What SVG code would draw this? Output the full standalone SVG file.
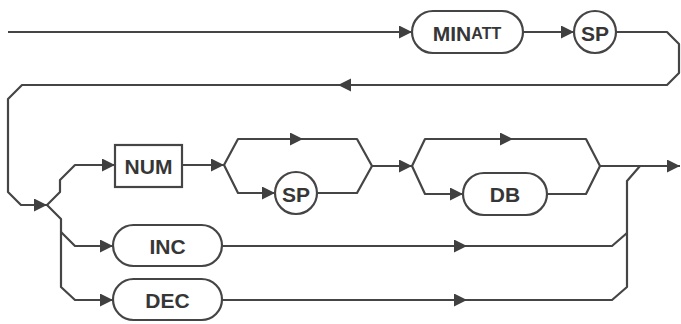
<svg xmlns="http://www.w3.org/2000/svg" width="681" height="324" viewBox="0 0 681 324">
  <defs>
    <marker id="arrow" markerUnits="userSpaceOnUse" markerWidth="14" markerHeight="14" refX="13" refY="6.5" orient="auto">
      <path d="M0,0 L13,6.5 L0,13 z" fill="#404040"/>
    </marker>
    <style>
      .wire { fill: none; stroke: #454545; stroke-width: 2.2; stroke-linejoin: round; }
      .arr { marker-end: url(#arrow); }
      .node { fill: #fff; stroke: #454545; stroke-width: 2.2; }
      .lbl { font-family: "Liberation Sans", Arial, sans-serif; font-weight: bold; font-size: 21px; fill: #363636; text-anchor: middle; dominant-baseline: central; }
    </style>
  </defs>
  <rect width="681" height="324" fill="#fff"/>

  <!-- connectors -->
  <g id="connectors">
    <!-- entry and first row -->
    <path class="wire arr" d="M8,32 H412"/>
    <path class="wire arr" d="M523,32 H574"/>
    <!-- wrap-around back to the start of the second row -->
    <path class="wire arr" d="M616,32 H667 L679,44 V73 L667,85 H338"/>
    <path class="wire arr" d="M338,85 H22 L8,99 V192 L21,205 H47"/>
    <!-- branch to NUM -->
    <path class="wire arr" d="M47,205 L60,192 V180 L75,165 H115"/>
    <path class="wire arr" d="M182,165 H224"/>
    <!-- optional SP -->
    <path class="wire arr" d="M224,165 L238,139 H303"/>
    <path class="wire" d="M303,139 H357 L372,166"/>
    <path class="wire arr" d="M224,165 L238,193 H275"/>
    <path class="wire" d="M317,193 H357 L372,166"/>
    <path class="wire arr" d="M372,166 H412"/>
    <!-- optional DB -->
    <path class="wire arr" d="M412,166 L425,139 H513"/>
    <path class="wire" d="M513,139 H586 L600,166"/>
    <path class="wire arr" d="M412,166 L425,194 H463"/>
    <path class="wire" d="M547,194 H586 L600,166"/>
    <path class="wire arr" d="M600,166 H680"/>
    <!-- INC / DEC branches -->
    <path class="wire arr" d="M47,205 L61,219 V287 L75,300 H113"/>
    <path class="wire arr" d="M61,232 L75,246 H113"/>
    <path class="wire arr" d="M222,246 H467"/>
    <path class="wire" d="M467,246 H612 L627,233"/>
    <path class="wire arr" d="M222,300 H467"/>
    <path class="wire" d="M467,300 H612 L627,287 V181 L640,166"/>
  </g>

  <g id="minatt">
    <rect class="node" x="412" y="11" width="111" height="42" rx="21"/>
    <text class="lbl" x="467" y="33">MIN<tspan font-size="16">ATT</tspan></text>
  </g>
  <g id="sp1">
    <circle class="node" cx="595" cy="32" r="21"/>
    <text class="lbl" x="595" y="33">SP</text>
  </g>
  <g id="num">
    <rect class="node" x="115" y="145" width="67" height="42"/>
    <text class="lbl" x="148.5" y="166">NUM</text>
  </g>
  <g id="sp2">
    <circle class="node" cx="296" cy="193" r="21"/>
    <text class="lbl" x="296" y="194">SP</text>
  </g>
  <g id="db">
    <rect class="node" x="463" y="173" width="84" height="42" rx="21"/>
    <text class="lbl" x="505" y="194">DB</text>
  </g>
  <g id="inc">
    <rect class="node" x="113" y="225" width="109" height="41" rx="20.5"/>
    <text class="lbl" x="167.5" y="246">INC</text>
  </g>
  <g id="dec">
    <rect class="node" x="113" y="279" width="109" height="41" rx="20.5"/>
    <text class="lbl" x="167.5" y="300">DEC</text>
  </g>
</svg>
